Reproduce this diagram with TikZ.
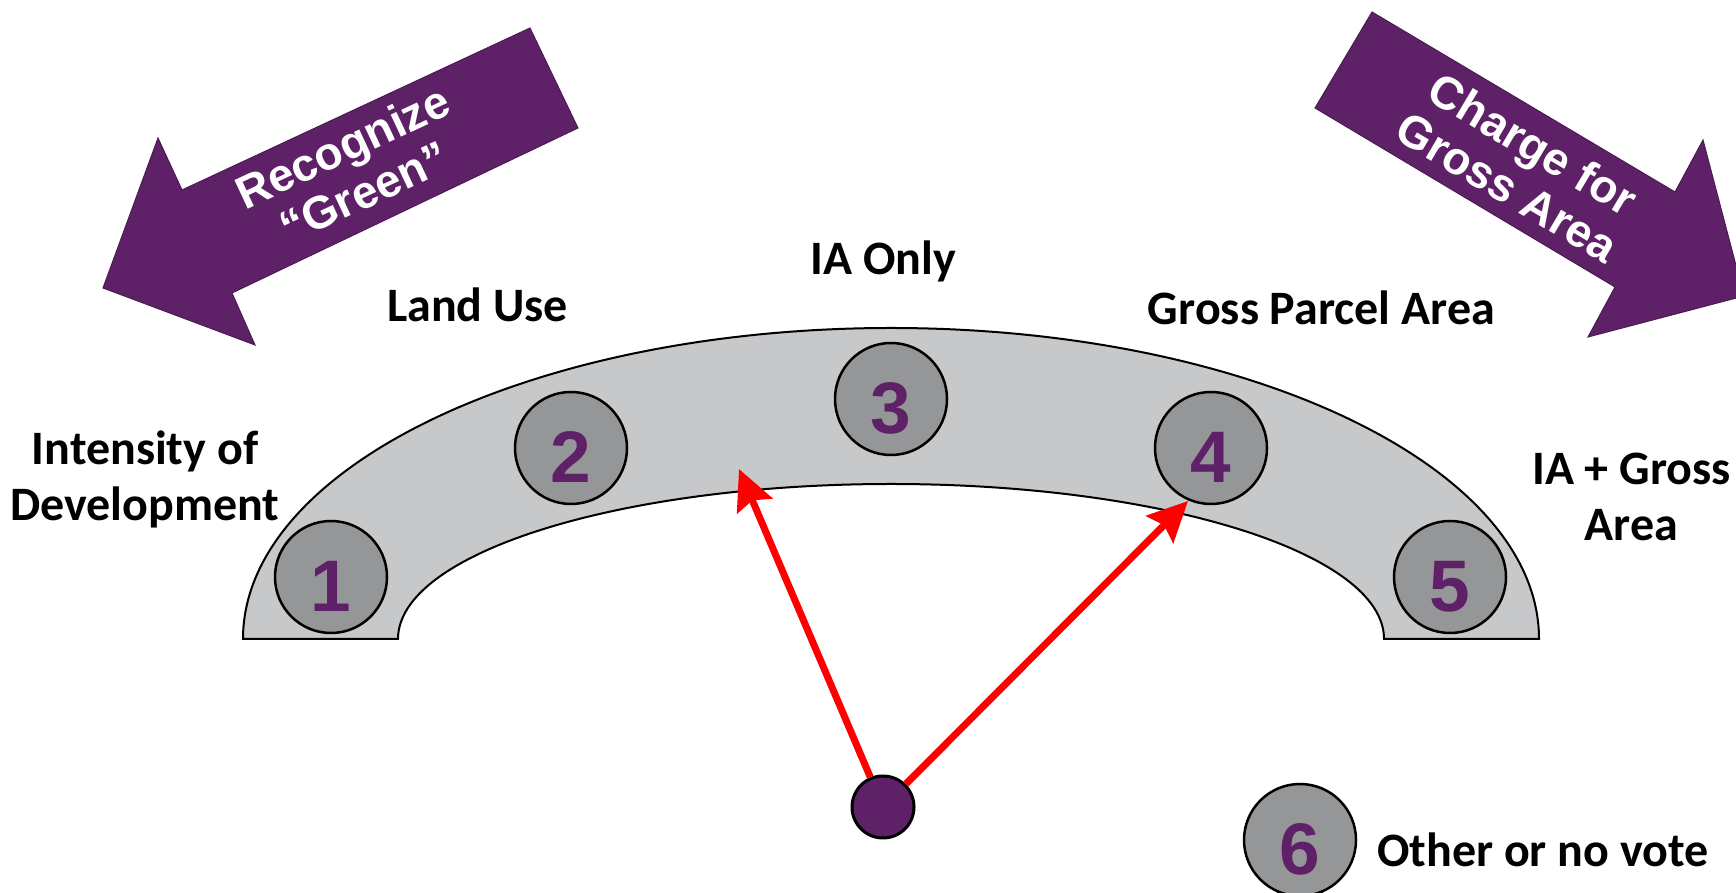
\documentclass[tikz,border=0pt]{standalone}
\usepackage{fontspec}
\setmainfont{Carlito}
\newfontfamily\arialfont{Liberation Sans}
\usetikzlibrary{arrows.meta}
\definecolor{vpurple}{RGB}{94,33,103}
\definecolor{archgray}{RGB}{199,200,202}
\definecolor{dotgray}{RGB}{148,150,152}
\begin{document}
\begin{tikzpicture}[x=1pt,y=1pt,
  optcircle/.style={circle, draw=black, line width=2.5pt, fill=dotgray, minimum size=112pt, inner sep=0pt, text=vpurple, font=\arialfont\bfseries\fontsize{73}{73}\selectfont, text height=69pt, text depth=0pt},
  lbl/.style={font=\bfseries\fontsize{48}{56}\selectfont, inner sep=0pt, anchor=base},
  bigarrow/.style={fill=vpurple, draw=vpurple!80!black, line width=1pt},
  arrowtext/.style={text=white, font=\arialfont\bfseries\fontsize{46}{50}\selectfont, inner sep=0pt},
  pointer/.style={draw=red, line width=7pt, -{Stealth[length=40pt,width=38pt,inset=6pt]}}
]
\useasboundingbox (0,0) rectangle (1736,893);
% big purple arrows
\draw[bigarrow] (530,865) -- (578,765) -- (232,600) -- (255,548) -- (103,605) -- (158,755) -- (182,703) -- cycle;
\draw[bigarrow] (1372,881) -- (1315,785) -- (1615,606) -- (1588,556) -- (1744,597) -- (1703,753) -- (1675,701) -- cycle;
\node[arrowtext, rotate=25] (recog) at (356,718) {\begin{tabular}{@{}c@{}}Recognize\\“Green”\end{tabular}};
\node[arrowtext, rotate=-30.7] (charge) at (1517,722) {\begin{tabular}{@{}c@{}}Charge for\\Gross Area\end{tabular}};
% arch
\draw[fill=archgray, line width=2pt] (243,254) arc[start angle=180, end angle=0, x radius=648, y radius=311] -- (1384,254) arc[start angle=0, end angle=180, x radius=493, y radius=155] -- cycle;
% labels
\node[lbl] (intensity) at (145,428) {\begin{tabular}[t]{@{}c@{}}Intensity of\\Development\end{tabular}};
\node[lbl] (landuse) at (477.5,571) {Land Use};
\node[lbl] (iaonly) at (883.5,618) {IA Only};
\node[lbl] (grossparcel) at (1321.5,568) {Gross Parcel Area};
\node[lbl] (iagross) at (1631.5,408) {\begin{tabular}[t]{@{}c@{}}IA + Gross\\Area\end{tabular}};
\node[lbl, anchor=base west] (other) at (1377,26) {Other or no vote};
% option circles
\node[optcircle] (o1) at (331,316) {1};
\node[optcircle] (o2) at (571,445) {2};
\node[optcircle] (o3) at (891,494) {3};
\node[optcircle] (o4) at (1211,445) {4};
\node[optcircle] (o5) at (1450,316) {5};
\node[optcircle] (o6) at (1300,53) {6};
% pointer
\node[circle, draw=black, line width=3pt, fill=vpurple, minimum size=62pt, inner sep=0pt] (pivot) at (883,86) {};
\coordinate (tipA) at (739,424);
\coordinate (tipB) at (1188,392);
\draw[pointer] (pivot) -- (tipA);
\draw[pointer] (pivot) -- (tipB);
\end{tikzpicture}
\end{document}
